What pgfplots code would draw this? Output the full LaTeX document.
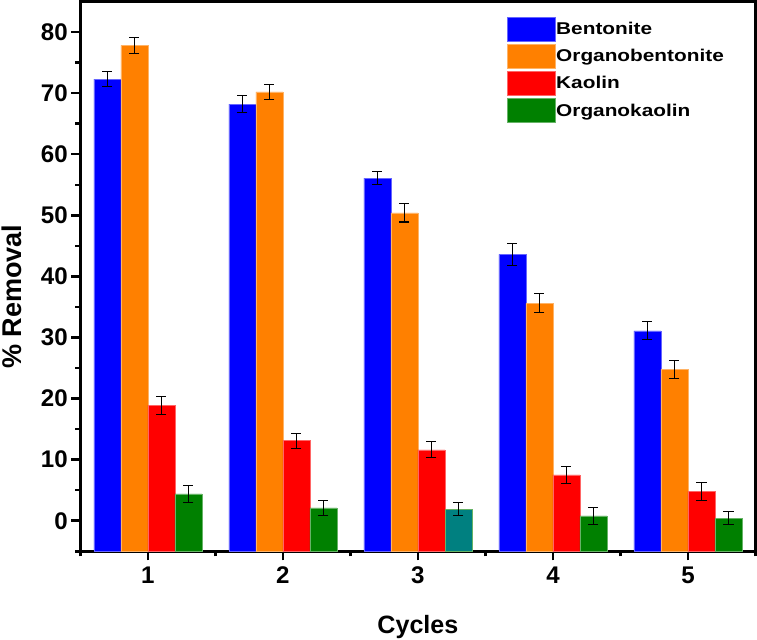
\documentclass[border=0pt]{standalone}
\usepackage{pgfplots}
\pgfplotsset{compat=1.18}
\usepackage{fontspec}
\setmainfont{Liberation Sans}
\newfontfamily\legfont[FakeStretch=1.22]{Liberation Sans}

\definecolor{cBent}{HTML}{0000FF}
\definecolor{cOBent}{HTML}{FF8000}
\definecolor{cKao}{HTML}{FF0000}
\definecolor{cOKao}{HTML}{008000}
\definecolor{cTeal}{HTML}{008080}

\pgfplotsset{
    errstyle/.style={
        error bars/y dir=both,
        error bars/y explicit,
        error bars/error bar style={black, line width=1.1pt},
        error bars/error mark options={black, rotate=90, mark size=5pt, line width=1.1pt},
    },
}

\begin{document}
\begin{tikzpicture}
\begin{axis}[
    width=673pt, height=548pt, scale only axis,
    xmin=0.5, xmax=5.5,
    ymin=0, ymax=90,
    % bars start at the bottom of the axis (-5): values are shifted by 5
    y filter/.expression={y+5},
    xtick={1,2,3,4,5},
    minor xtick={0.5,1.5,2.5,3.5,4.5,5.5},
    ytick={5,15,25,35,45,55,65,75,85},
    yticklabels={0,10,20,30,40,50,60,70,80},
    minor ytick={0,10,20,30,40,50,60,70,80},
    xtick pos=left, ytick pos=left,
    tick align=outside,
    major tick length=9pt, minor tick length=5pt,
    every tick/.style={black, line width=2.5pt},
    axis line style={line width=3pt},
    ticklabel style={font=\bfseries\fontsize{24}{24}\selectfont},
    xticklabel style={yshift=-3pt},
    /pgf/number format/assume math mode=true,
    xlabel={Cycles}, ylabel={\% Removal},
    every axis x label/.style={at={([yshift=-82pt]rel axis cs:0.5,0)},
        anchor=base, inner sep=1pt,
        font=\bfseries\fontsize{25}{25}\selectfont},
    every axis y label/.style={at={([xshift=-59pt]rel axis cs:0,0.463)},
        rotate=90, anchor=base, inner sep=1.5pt,
        font=\bfseries\fontsize{27}{27}\selectfont},
    ybar, bar width=0.2,
    legend style={at={(rel axis cs:0.631,0.972)}, anchor=north west,
        draw=none, fill=none, inner sep=0pt, row sep=2.5pt,
        font=\legfont\bfseries\fontsize{17}{17}\selectfont,
        nodes={inner sep=1pt}},
    legend cell align=left,
    legend image code/.code={\fill[#1] (0pt,-12pt) rectangle (48pt,12pt);},
]

\addplot[fill=cBent, draw=cBent!60!white, line width=0.5pt, bar shift=-0.3, errstyle]
coordinates {
    (1, 72.3) +- (0, 1.2)
    (2, 68.2) +- (0, 1.4)
    (3, 56.1) +- (0, 1.0)
    (4, 43.6) +- (0, 1.75)
    (5, 31.1) +- (0, 1.45)
};
\addlegendentry{Bentonite}

\addplot[fill=cOBent, draw=cOBent!60!white, line width=0.5pt, bar shift=-0.1, errstyle]
coordinates {
    (1, 77.8) +- (0, 1.3)
    (2, 70.2) +- (0, 1.2)
    (3, 50.4) +- (0, 1.5)
    (4, 35.6) +- (0, 1.55)
    (5, 24.8) +- (0, 1.5)
};
\addlegendentry{Organobentonite}

\addplot[fill=cKao, draw=cKao!60!white, line width=0.5pt, bar shift=0.1, errstyle]
coordinates {
    (1, 18.9) +- (0, 1.5)
    (2, 13.1) +- (0, 1.25)
    (3, 11.6) +- (0, 1.3)
    (4, 7.5)  +- (0, 1.35)
    (5, 4.8)  +- (0, 1.45)
};
\addlegendentry{Kaolin}

\addplot[fill=cOKao, draw=cOKao!60!white, line width=0.5pt, bar shift=0.3, errstyle]
coordinates {
    (1, 4.4) +- (0, 1.4)
    (2, 2.1) +- (0, 1.25)
    (4, 0.8) +- (0, 1.35)
    (5, 0.4) +- (0, 1.05)
};
\addlegendentry{Organokaolin}

% cycle 3 organokaolin is drawn in teal
\addplot[fill=cTeal, draw=cOKao!60!white, line width=0.5pt, bar shift=0.3, errstyle, forget plot]
coordinates {
    (3, 1.9) +- (0, 1.1)
};
\end{axis}
\end{tikzpicture}
\end{document}
